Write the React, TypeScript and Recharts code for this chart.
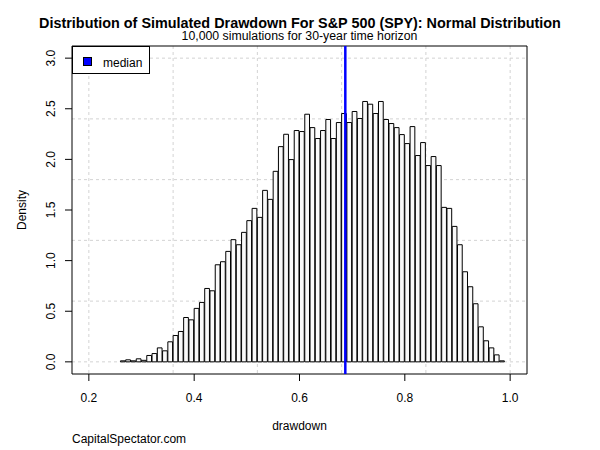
import { ComposedChart, Bar, XAxis, YAxis, ReferenceLine, ReferenceArea, CartesianGrid } from "recharts";

// left edge of each histogram bin (width 0.01)
const binStarts = [
  0.26, 0.27, 0.28, 0.29, 0.3, 0.31, 0.32, 0.33, 0.34, 0.35,
  0.36, 0.37, 0.38, 0.39, 0.4, 0.41, 0.42, 0.43, 0.44, 0.45,
  0.46, 0.47, 0.48, 0.49, 0.5, 0.51, 0.52, 0.53, 0.54, 0.55,
  0.56, 0.57, 0.58, 0.59, 0.6, 0.61, 0.62, 0.63, 0.64, 0.65,
  0.66, 0.67, 0.68, 0.69, 0.7, 0.71, 0.72, 0.73, 0.74, 0.75,
  0.76, 0.77, 0.78, 0.79, 0.8, 0.81, 0.82, 0.83, 0.84, 0.85,
  0.86, 0.87, 0.88, 0.89, 0.9, 0.91, 0.92, 0.93, 0.94, 0.95,
  0.96, 0.97, 0.98,
];

const density = [
  0.01, 0.02, 0.01, 0.03, 0.015, 0.063, 0.082, 0.138, 0.109, 0.198,
  0.26, 0.3, 0.438, 0.415, 0.528, 0.587, 0.725, 0.702, 0.959, 0.989,
  1.091, 1.207, 1.157, 1.279, 1.395, 1.516, 1.427, 1.694, 1.605, 1.882,
  2.126, 2.248, 1.998, 2.285, 2.275, 2.446, 2.314, 2.206, 2.285, 2.394,
  2.206, 2.364, 2.453, 2.364, 2.473, 2.404, 2.572, 2.545, 2.453, 2.572,
  2.394, 2.354, 2.314, 2.245, 2.156, 2.324, 2.038, 2.166, 1.939, 2.028,
  1.939, 1.526, 1.516, 1.338, 1.157, 0.89, 0.742, 0.574, 0.346, 0.208,
  0.138, 0.069, 0.01,
];

const xTicks = [0.2, 0.4, 0.6, 0.8, 1.0];
const yTicks = [0, 0.5, 1.0, 1.5, 2.0, 2.5, 3.0];
const gridX = [0.2, 0.36, 0.52, 0.68, 0.84, 1.0];
const gridY = [0, 0.6, 1.2, 1.8, 2.4, 3.0];
const median = 0.687;

const BIN = 0.01;
const X_MIN = 0.168;
const X_MAX = 1.032;
const Y_MIN = -0.12;
const Y_MAX = 3.12;

const W = 600;
const H = 450;
const LEFT = 72;
const RIGHT = 73;
const PLOT_W = W - LEFT - RIGHT;

const data = binStarts.map((s, i) => ({ mid: s + BIN / 2, density: density[i] }));

const FONT = "'Liberation Sans', Arial, sans-serif";

function YTick(props: any) {
  const { x, y, payload } = props;
  return (
    <text
      x={x}
      y={y}
      transform={`rotate(-90 ${x} ${y})`}
      textAnchor="middle"
      fontSize={12}
      fill="#000"
    >
      {Number(payload.value).toFixed(1)}
    </text>
  );
}

export default function App() {
  return (
    <div style={{ position: "absolute", left: 0, top: 0, width: W, height: H, fontFamily: FONT, background: "#fff" }}>
      <ComposedChart
        width={W}
        height={H}
        data={data}
        margin={{ top: 46, right: RIGHT, bottom: 0, left: 0 }}
      >
        <CartesianGrid
          verticalValues={gridX}
          horizontalValues={gridY}
          stroke="#d3d3d3"
          strokeDasharray="3 3"
        />
        <XAxis
          type="number"
          dataKey="mid"
          domain={[X_MIN, X_MAX]}
          allowDataOverflow
          ticks={xTicks}
          tickFormatter={(v) => Number(v).toFixed(1)}
          axisLine={false}
          tickLine={{ stroke: "#000" }}
          tickSize={7}
          tickMargin={12}
          tick={{ fontSize: 12, fill: "#000" }}
          height={76}
          interval={0}
        />
        <YAxis
          type="number"
          domain={[Y_MIN, Y_MAX]}
          allowDataOverflow
          ticks={yTicks}
          axisLine={false}
          tickLine={{ stroke: "#000" }}
          tickSize={7}
          tickMargin={10}
          tick={<YTick />}
          width={LEFT}
          interval={0}
        />
        <Bar
          dataKey="density"
          fill="#fafafa"
          stroke="#000"
          strokeWidth={1}
          barSize={(PLOT_W * BIN) / (X_MAX - X_MIN)}
          isAnimationActive={false}
        />
        <ReferenceLine x={median} stroke="#0000ff" strokeWidth={2.5} />
        <ReferenceArea x1={X_MIN} x2={X_MAX} y1={Y_MIN} y2={Y_MAX} fill="none" stroke="#000" strokeWidth={1} />
      </ComposedChart>

      <div style={{ position: "absolute", left: 0, top: 17.8, width: W, textAlign: "center", fontWeight: "bold", fontSize: 14.4, lineHeight: 0.8, whiteSpace: "nowrap" }}>
        Distribution of Simulated Drawdown For S&amp;P 500 (SPY): Normal Distribution
      </div>
      <div style={{ position: "absolute", left: 0, top: 32.2, width: W - 1, textAlign: "center", fontSize: 12.3, lineHeight: 0.8, whiteSpace: "nowrap" }}>
        10,000 simulations for 30-year time horizon
      </div>

      <div
        style={{
          position: "absolute",
          left: 72,
          top: 46,
          width: 78,
          height: 28,
          boxSizing: "border-box",
          border: "1px solid #000",
          background: "#fff",
          fontSize: 12,
        }}
      >
        <div style={{ position: "absolute", left: 10, top: 10, width: 9, height: 9, boxSizing: "border-box", background: "#0000ff", border: "1px solid #000" }} />
        <div style={{ position: "absolute", left: 30, top: 10, lineHeight: 1 }}>median</div>
      </div>

      <div style={{ position: "absolute", left: 0, top: 419.8, width: W - 1, textAlign: "center", fontSize: 12, lineHeight: 1 }}>
        drawdown
      </div>
      <div
        style={{
          position: "absolute",
          left: 22,
          top: 210,
          transform: "translate(-50%, -50%) rotate(-90deg)",
          fontSize: 12,
          lineHeight: 1,
          whiteSpace: "nowrap",
        }}
      >
        Density
      </div>
      <div style={{ position: "absolute", left: 72, top: 432.8, fontSize: 12, lineHeight: 1, whiteSpace: "nowrap" }}>
        CapitalSpectator.com
      </div>
    </div>
  );
}
